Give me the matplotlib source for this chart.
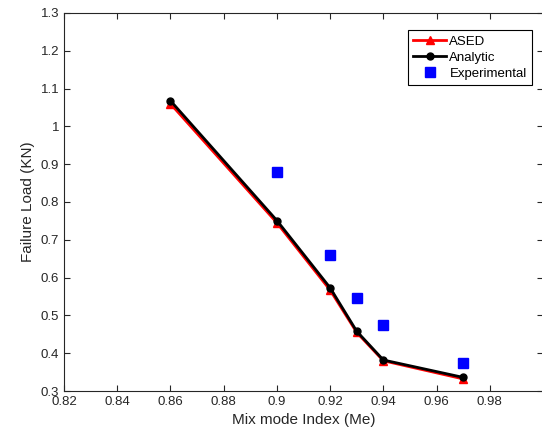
import matplotlib.pyplot as plt

# Dados
mix_index = [0.86, 0.90, 0.92, 0.93, 0.94, 0.97]
ased = [1.060, 0.745, 0.567, 0.455, 0.380, 0.332]
analytic = [1.068, 0.751, 0.573, 0.458, 0.382, 0.336]
exp_index = [0.90, 0.92, 0.93, 0.94, 0.97]
experimental = [0.880, 0.660, 0.545, 0.475, 0.375]

xticks = [0.82, 0.84, 0.86, 0.88, 0.90, 0.92, 0.94, 0.96, 0.98]
xtick_labels = ['0.82', '0.84', '0.86', '0.88', '0.9', '0.92', '0.94', '0.96', '0.98']
yticks = [0.3, 0.4, 0.5, 0.6, 0.7, 0.8, 0.9, 1.0, 1.1, 1.2, 1.3]
ytick_labels = ['0.3', '0.4', '0.5', '0.6', '0.7', '0.8', '0.9', '1', '1.1', '1.2', '1.3']

plt.rcParams['font.family'] = ['Liberation Sans', 'DejaVu Sans']

fig = plt.figure(figsize=(5.42, 4.45), dpi=100)
ax = fig.add_axes([64 / 542, 54 / 445, 479 / 542, 378 / 445])

cinza = '#262626'
ax.plot(mix_index, ased, color='red', marker='^', markersize=6, linewidth=2, label='ASED')
ax.plot(mix_index, analytic, color='black', marker='o', markersize=5, linewidth=2, label='Analytic')
ax.plot(exp_index, experimental, linestyle='none', color='#0000ff', marker='s', markersize=7, label='Experimental')

ax.set_xlim(0.82, 1.0)
ax.set_ylim(0.3, 1.3)
ax.set_xticks(xticks)
ax.set_xticklabels(xtick_labels)
ax.set_yticks(yticks)
ax.set_yticklabels(ytick_labels)
ax.tick_params(direction='in', top=True, right=True, length=4, width=0.8,
               labelsize=9.5, colors=cinza, labelcolor=cinza)
for sp in ax.spines.values():
    sp.set_color(cinza)
    sp.set_linewidth(0.8)

ax.set_xlabel('Mix mode Index (Me)', fontsize=11, color=cinza)
ax.set_ylabel('Failure Load (KN)', fontsize=11, color=cinza)

leg = ax.legend(loc='upper right', bbox_to_anchor=(0.977, 0.955), borderaxespad=0,
                fontsize=9.5, fancybox=False, framealpha=1, edgecolor='black',
                borderpad=0.4, handlelength=2.5, handletextpad=0.25, labelspacing=0.3)
leg.get_frame().set_linewidth(0.8)

fig.savefig('out.png', dpi=100)
